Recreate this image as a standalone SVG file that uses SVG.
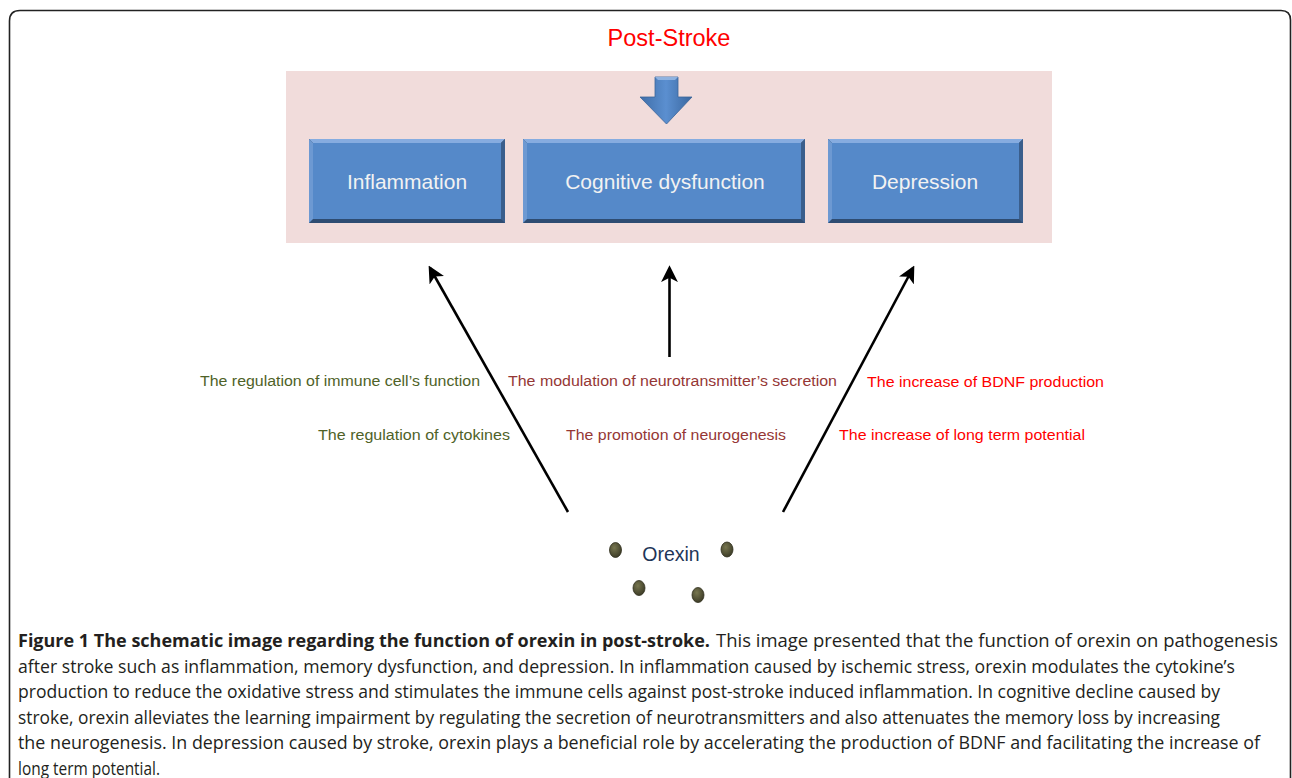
<svg xmlns="http://www.w3.org/2000/svg" width="1292" height="778" viewBox="0 0 1292 778">
<defs>
<style>
.box{fill:#5589c9}
.bt{fill:#86ace0}
.bb{fill:#2e4c72}
.bl{fill:#6d99d2}
.br{fill:#3a5e8c}
.bx{font-family:"Liberation Sans",Arial,sans-serif;font-size:21px;fill:#f2f2f2;text-anchor:middle}
.lab{font-family:"Liberation Sans",Arial,sans-serif;font-size:15.5px}
.g{fill:#4f6228}
.dr{fill:#953735}
.r{fill:#ff0000}
.conn{stroke:#000;stroke-width:2.6;fill:none;marker-end:url(#ah)}
.cap{font-family:"Open Sans","Liberation Sans",sans-serif;font-size:18px;fill:#231f20}
.dot{fill:url(#dg);stroke:#2e2d1c;stroke-width:0.8}
</style>
<marker id="ah" viewBox="0 0 12 12" refX="10" refY="6" markerWidth="6.5" markerHeight="6.5" orient="auto" markerUnits="strokeWidth">
<path d="M0,0 L12,6 L0,12 L3,6 Z" fill="#000"/>
</marker>
<linearGradient id="ag" x1="0" y1="0" x2="1" y2="0">
<stop offset="0" stop-color="#3f6ea8"/>
<stop offset="0.5" stop-color="#5b8fd0"/>
<stop offset="1" stop-color="#3a679f"/>
</linearGradient>
<radialGradient id="dg" cx="0.4" cy="0.35" r="0.7">
<stop offset="0" stop-color="#77764f"/>
<stop offset="1" stop-color="#3a3925"/>
</radialGradient>
</defs>
<rect width="1292" height="778" fill="#fff"/>
<path d="M9.5,778 V21 Q9.5,10.5 20,10.5 H1281 Q1290.5,10.5 1290.5,20 V778" fill="none" stroke="#222" stroke-width="1.6"/>
<text x="669" y="46" font-family="Liberation Sans,Arial,sans-serif" font-size="23.5px" fill="#ff0000" text-anchor="middle">Post-Stroke</text>
<rect x="286" y="71" width="766" height="172" fill="#f1dcdb"/>
<g id="arrow-down">
<path d="M655,77 H678 V97 H692 L666.5,124 L640,97 H655 Z" fill="url(#ag)" stroke="#3b6499" stroke-width="0.8"/>
<path d="M655,77 H678 L675,80 H658 Z" fill="#8fb2e0"/>
</g>
<g id="inflammation">
<rect x="309" y="139" width="196" height="84" class="bb"/>
<polygon points="309,139 505,139 501,143 313,143" class="bt"/>
<polygon points="309,139 313,143 313,219 309,223" class="bl"/>
<polygon points="505,139 505,223 501,219 501,143" class="br"/>
<rect x="313" y="143" width="188" height="76" class="box"/>
<text x="407" y="189" class="bx">Inflammation</text>
</g>
<g id="cognitive">
<rect x="523" y="139" width="282" height="84" class="bb"/>
<polygon points="523,139 805,139 801,143 527,143" class="bt"/>
<polygon points="523,139 527,143 527,219 523,223" class="bl"/>
<polygon points="805,139 805,223 801,219 801,143" class="br"/>
<rect x="527" y="143" width="274" height="76" class="box"/>
<text x="665" y="189" class="bx">Cognitive dysfunction</text>
</g>
<g id="depression">
<rect x="828" y="139" width="195" height="84" class="bb"/>
<polygon points="828,139 1023,139 1019,143 832,143" class="bt"/>
<polygon points="828,139 832,143 832,219 828,223" class="bl"/>
<polygon points="1023,139 1023,223 1019,219 1019,143" class="br"/>
<rect x="832" y="143" width="187" height="76" class="box"/>
<text x="925" y="189" class="bx">Depression</text>
</g>
<g id="connectors">
<line x1="568" y1="512" x2="430" y2="268" class="conn"/>
<line x1="669.5" y1="357" x2="669.5" y2="268" class="conn"/>
<line x1="783" y1="512" x2="913" y2="268" class="conn"/>
</g>
<g id="labels">
<text x="200" y="386" class="lab g" textLength="280" lengthAdjust="spacingAndGlyphs">The regulation of immune cell’s function</text>
<text x="318" y="440" class="lab g" textLength="192" lengthAdjust="spacingAndGlyphs">The regulation of cytokines</text>
<text x="508" y="386" class="lab dr" textLength="329" lengthAdjust="spacingAndGlyphs">The modulation of neurotransmitter’s secretion</text>
<text x="566" y="440" class="lab dr" textLength="220" lengthAdjust="spacingAndGlyphs">The promotion of neurogenesis</text>
<text x="867" y="387" class="lab r" textLength="237" lengthAdjust="spacingAndGlyphs">The increase of BDNF production</text>
<text x="839" y="440" class="lab r" textLength="246" lengthAdjust="spacingAndGlyphs">The increase of long term potential</text>
</g>
<g id="orexin">
<text x="671" y="561" font-family="Liberation Sans,Arial,sans-serif" font-size="19.5px" fill="#1f3658" text-anchor="middle">Orexin</text>
<ellipse cx="615.5" cy="550" rx="6" ry="7.5" class="dot"/>
<ellipse cx="727" cy="549.5" rx="6" ry="7.5" class="dot"/>
<ellipse cx="639" cy="588" rx="6" ry="7.5" class="dot"/>
<ellipse cx="698" cy="595" rx="6" ry="7.5" class="dot"/>
</g>
<g id="caption">
<text x="18" y="647" class="cap" font-weight="bold" textLength="692" lengthAdjust="spacingAndGlyphs">Figure 1 The schematic image regarding the function of orexin in post-stroke.</text>
<text x="716" y="647" class="cap" textLength="562" lengthAdjust="spacingAndGlyphs">This image presented that the function of orexin on pathogenesis</text>
<text x="18" y="673" class="cap" textLength="1217" lengthAdjust="spacingAndGlyphs">after stroke such as inflammation, memory dysfunction, and depression. In inflammation caused by ischemic stress, orexin modulates the cytokine’s</text>
<text x="18" y="698" class="cap" textLength="1202" lengthAdjust="spacingAndGlyphs">production to reduce the oxidative stress and stimulates the immune cells against post-stroke induced inflammation. In cognitive decline caused by</text>
<text x="18" y="724" class="cap" textLength="1202" lengthAdjust="spacingAndGlyphs">stroke, orexin alleviates the learning impairment by regulating the secretion of neurotransmitters and also attenuates the memory loss by increasing</text>
<text x="18" y="749" class="cap" textLength="1242" lengthAdjust="spacingAndGlyphs">the neurogenesis. In depression caused by stroke, orexin plays a beneficial role by accelerating the production of BDNF and facilitating the increase of</text>
<text x="18" y="775" class="cap" textLength="142" lengthAdjust="spacingAndGlyphs">long term potential.</text>
</g>
</svg>
